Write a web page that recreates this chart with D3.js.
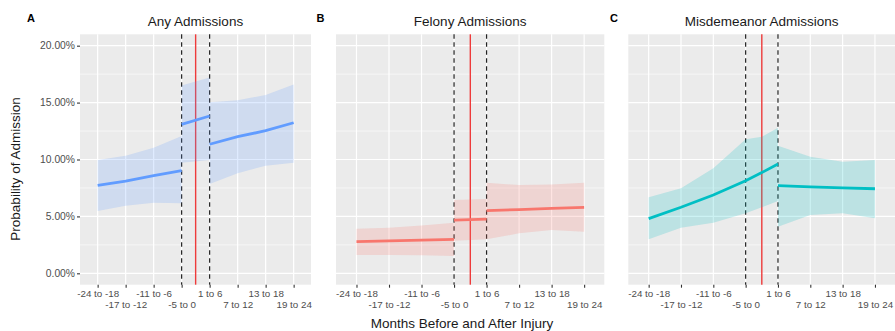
<!DOCTYPE html>
<html>
<head>
<meta charset="utf-8">
<script src="https://cdnjs.cloudflare.com/ajax/libs/d3/7.8.5/d3.min.js"></script>
<style>
    body { margin: 0; background: #fff; }
    svg { font-family: "Liberation Sans", Arial, sans-serif; display: block; }
</style>
</head>
<body>
<div id="chart-container"></div>
<script>
// month bins, positioned 1..8 on the x axis
const xLabels = ["-24 to -18", "-17 to -12", "-11 to -6", "-5 to 0", "1 to 6", "7 to 12", "13 to 18", "19 to 24"]
const xPositions = [1, 2, 3, 4, 5, 6, 7, 8]
const yTicks = [0, 5, 10, 15, 20]
const yMinorTicks = [2.5, 7.5, 12.5, 17.5]
const dashedCuts = [4, 5]   //edges of the injury window
const injuryLine = 4.5

const panelTitles = ["Any Admissions", "Felony Admissions", "Misdemeanor Admissions"]
const panelTags = ["A", "B", "C"]
const panelColors = ["#619CFF", "#F8766D", "#00BFC4"]

// fitted probability (%) with lower / upper bounds, one segment at a time
const anySegments = [
    { x: [1, 2, 3, 4], est: [7.73, 8.1, 8.58, 9.02], lo: [5.47, 5.94, 6.2, 6.15], hi: [9.96, 10.33, 11.04, 12.06] },
    { x: [4, 5], est: [13.09, 13.82], lo: [9.72, 9.96], hi: [16.5, 17.2] },
    { x: [5, 6, 7, 8], est: [11.34, 12.0, 12.53, 13.23], lo: [7.85, 8.79, 9.46, 9.72], hi: [15.03, 15.2, 15.67, 16.6] }
]
const felonySegments = [
    { x: [1, 2, 3, 4], est: [2.78, 2.85, 2.92, 2.99], lo: [1.61, 1.6, 1.58, 1.52], hi: [3.92, 4.0, 4.2, 4.45] },
    { x: [4, 5], est: [4.68, 4.77], lo: [2.87, 2.99], hi: [6.44, 6.53] },
    { x: [5, 6, 7, 8], est: [5.5, 5.6, 5.7, 5.8], lo: [2.99, 3.51, 3.8, 3.66], hi: [7.96, 7.75, 7.8, 7.96] }
]
const misdemeanorSegments = [
    { x: [1, 2, 3, 4, 4.5, 5], est: [4.8, 5.8, 6.88, 8.14, 8.85, 9.6], lo: [2.99, 4.0, 4.45, 5.27, 5.8, 6.35], hi: [6.68, 7.47, 9.23, 11.77, 12.0, 12.8] },
    { x: [5, 6, 7, 8], est: [7.7, 7.6, 7.5, 7.43], lo: [4.1, 5.12, 5.27, 4.83], hi: [11.21, 10.25, 9.81, 9.96] }
]
const panelSegments = [anySegments, felonySegments, misdemeanorSegments]

const renderChart = () => {

    const svgWidth = 895
    const svgHeight = 331

    //left/right edge of every plot panel, top and bottom are shared
    const panelBounds = [[80, 311], [336, 604.3], [628.3, 895]]
    const top = 34.3
    const bottom = 284.7

    const svg = d3.select('#chart-container')
        .append('svg')
            .attr('width', svgWidth)
            .attr('height', svgHeight)

    const yScale = d3.scaleLinear()
        .domain([-1, 21])
        .range([bottom, top])

    const toPoints = seg => seg.x.map((x, i) => ({ x, est: seg.est[i], lo: seg.lo[i], hi: seg.hi[i] }))

    panelBounds.forEach((bounds, p) => {

        const xScale = d3.scaleLinear()
            .domain([0.37, 8.62])
            .range(bounds)

        const g = svg.append('g')

        //grey panel
        g.append('rect')
            .attr('x', bounds[0])
            .attr('y', top)
            .attr('width', bounds[1] - bounds[0])
            .attr('height', bottom - top)
            .attr('fill', '#EBEBEB')

        //grid
        g.selectAll('.minor-y')
            .data(yMinorTicks)
            .enter()
            .append('line')
                .attr('x1', bounds[0]).attr('x2', bounds[1])
                .attr('y1', d => yScale(d)).attr('y2', d => yScale(d))
                .style('stroke', '#fff').style('stroke-width', 0.6)

        g.selectAll('.major-y')
            .data(yTicks)
            .enter()
            .append('line')
                .attr('x1', bounds[0]).attr('x2', bounds[1])
                .attr('y1', d => yScale(d)).attr('y2', d => yScale(d))
                .style('stroke', '#fff').style('stroke-width', 1.2)

        g.selectAll('.major-x')
            .data(xPositions)
            .enter()
            .append('line')
                .attr('x1', d => xScale(d)).attr('x2', d => xScale(d))
                .attr('y1', top).attr('y2', bottom)
                .style('stroke', '#fff').style('stroke-width', 1.2)

        //injury markers sit under the ribbons
        g.append('line')
            .attr('x1', xScale(injuryLine)).attr('x2', xScale(injuryLine))
            .attr('y1', top).attr('y2', bottom)
            .style('stroke', '#EE3B3B').style('stroke-width', 1.4)

        g.selectAll('.cut')
            .data(dashedCuts)
            .enter()
            .append('line')
                .attr('x1', d => xScale(d)).attr('x2', d => xScale(d))
                .attr('y1', top).attr('y2', bottom)
                .style('stroke', '#222').style('stroke-width', 1.2)
                .style('stroke-dasharray', '4.5,3.5')

        const area = d3.area()
            .x(d => xScale(d.x))
            .y0(d => yScale(d.lo))
            .y1(d => yScale(d.hi))

        const line = d3.line()
            .x(d => xScale(d.x))
            .y(d => yScale(d.est))

        const segments = panelSegments[p].map(toPoints)

        g.selectAll('.ribbon')
            .data(segments)
            .enter()
            .append('path')
                .attr('d', area)
                .attr('fill', panelColors[p])
                .attr('fill-opacity', 0.2)

        g.selectAll('.fit')
            .data(segments)
            .enter()
            .append('path')
                .attr('d', line)
                .attr('fill', 'none')
                .style('stroke', panelColors[p])
                .style('stroke-width', 2.8)

        //x axis, labels alternate over two rows
        const xAxis = d3.axisBottom(xScale)
            .tickValues(xPositions)
            .tickSize(3)
            .tickPadding(2)
            .tickFormat(d => xLabels[d - 1])

        const xAxisG = g.append('g')
            .attr('transform', `translate(0, ${bottom})`)
            .call(xAxis)

        xAxisG.select('.domain').remove()
        xAxisG.selectAll('.tick line').attr('stroke', '#333').attr('stroke-width', 1.1)
        xAxisG.selectAll('.tick text')
            .attr('fill', '#4D4D4D')
            .style('font-size', '9.8px')
            .attr('dy', (d, i) => i % 2 === 0 ? '0.71em' : '1.82em')

        if (p === 0) {
            const yAxis = d3.axisLeft(yScale)
                .tickValues(yTicks)
                .tickSize(3)
                .tickPadding(2)
                .tickFormat(d => d.toFixed(2) + '%')

            const yAxisG = g.append('g')
                .attr('transform', `translate(${bounds[0]}, 0)`)
                .call(yAxis)

            yAxisG.select('.domain').remove()
            yAxisG.selectAll('.tick line').attr('stroke', '#333').attr('stroke-width', 1.1)
            yAxisG.selectAll('.tick text')
                .attr('fill', '#4D4D4D')
                .style('font-size', '10.3px')
        }

        //panel title and tag
        g.append('text')
            .attr('x', (bounds[0] + bounds[1]) / 2)
            .attr('y', 25.5)
            .attr('text-anchor', 'middle')
            .style('font-size', '13.5px')
            .attr('fill', '#1A1A1A')
            .text(panelTitles[p])

        g.append('text')
            .attr('x', [31, 320.5, 614][p])
            .attr('y', 22)
            .attr('text-anchor', 'middle')
            .style('font-size', '11px')
            .style('font-weight', 'bold')
            .text(panelTags[p])
    })

    svg.append('text')
        .attr('transform', 'translate(20, 169) rotate(-90)')
        .attr('text-anchor', 'middle')
        .style('font-size', '13.5px')
        .attr('fill', '#1A1A1A')
        .text('Probability of Admission')

    svg.append('text')
        .attr('x', 462)
        .attr('y', 327.5)
        .attr('text-anchor', 'middle')
        .style('font-size', '13.5px')
        .attr('fill', '#1A1A1A')
        .text('Months Before and After Injury')
}

renderChart()
</script>
</body>
</html>
